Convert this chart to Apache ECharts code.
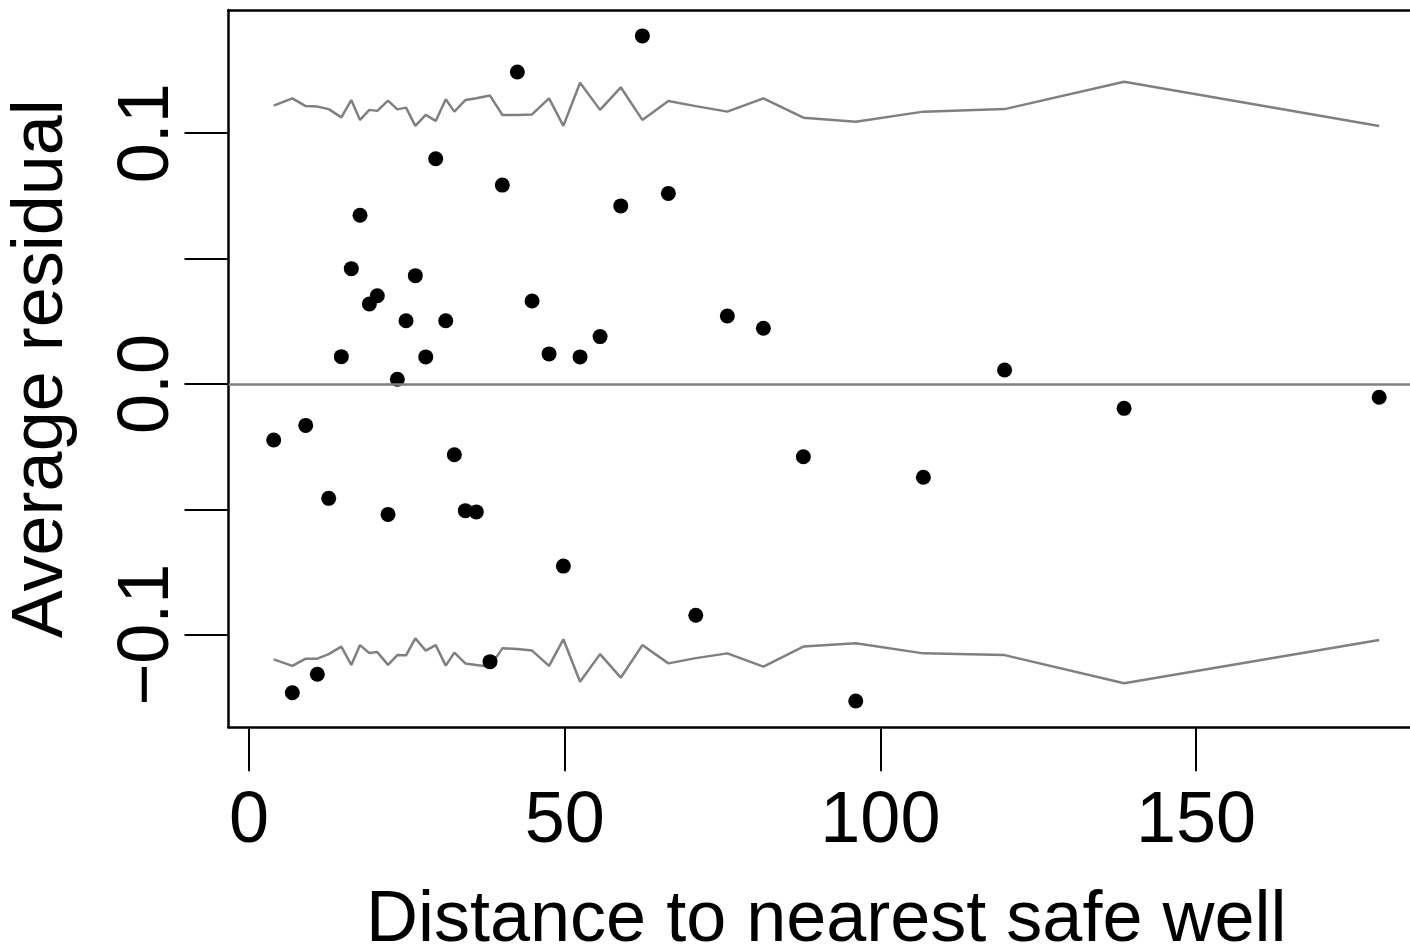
<!DOCTYPE html>
<html>
<head>
<meta charset="utf-8">
<script src="https://cdn.jsdelivr.net/npm/echarts@6/dist/echarts.min.js"></script>
<style>
html,body{margin:0;padding:0;background:#fff;}
#chart{width:1410px;height:948px;}
</style>
</head>
<body>
<div id="chart"></div>
<script>
// Binned mean distance (x) for each bin
const distance = [3.91, 6.86, 8.98, 10.82, 12.62, 14.62, 16.20, 17.58, 19.06, 20.32,
  22.02, 23.49, 24.87, 26.34, 27.99, 29.57, 31.16, 32.52, 34.26, 36.00,
  38.17, 40.12, 42.50, 44.83, 47.52, 49.79, 52.43, 55.60, 58.88, 62.30,
  66.42, 70.76, 75.76, 81.47, 87.80, 96.10, 106.81, 119.67, 138.60, 179.00];
// Average residual in each bin
const avgResidual = [-0.0223, -0.1231, -0.0165, -0.1157, -0.0456, 0.0109, 0.0460, 0.0673, 0.0319, 0.0352,
  -0.0520, 0.0019, 0.0252, 0.0432, 0.0108, 0.0898, 0.0252, -0.0282, -0.0505, -0.0510,
  -0.1107, 0.0793, 0.1244, 0.0331, 0.0120, -0.0726, 0.0108, 0.0189, 0.0710, 0.1388,
  0.0760, -0.0922, 0.0271, 0.0222, -0.0290, -0.1264, -0.0372, 0.0056, -0.0097, -0.0053];
// Upper band (+2 SE)
const upperBand = [0.1110, 0.1139, 0.1108, 0.1106, 0.1096, 0.1063, 0.1132, 0.1053, 0.1093, 0.1089,
  0.1130, 0.1095, 0.1102, 0.1029, 0.1073, 0.1049, 0.1135, 0.1086, 0.1132, 0.1139,
  0.1150, 0.1073, 0.1073, 0.1075, 0.1139, 0.1029, 0.1201, 0.1093, 0.1183, 0.1053,
  0.1128, 0.1108, 0.1086, 0.1139, 0.1062, 0.1046, 0.1086, 0.1096, 0.1205, 0.1029];
// Lower band (-2 SE)
const lowerBand = [-0.1098, -0.1124, -0.1095, -0.1095, -0.1077, -0.1047, -0.1120, -0.1041, -0.1073, -0.1069,
  -0.1120, -0.1081, -0.1082, -0.1014, -0.1063, -0.1041, -0.1123, -0.1071, -0.1114, -0.1120,
  -0.1127, -0.1054, -0.1057, -0.1063, -0.1124, -0.1018, -0.1187, -0.1077, -0.1171, -0.1041,
  -0.1114, -0.1093, -0.1074, -0.1127, -0.1047, -0.1034, -0.1074, -0.1081, -0.1193, -0.1021];
// Ticks
const xTicks = [0, 50, 100, 150];
const yTicks = [-0.1, -0.05, 0, 0.05, 0.1];
const yLabels = [-0.1, 0, 0.1];

const pts = distance.map((d, i) => [d, avgResidual[i]]);
const up = distance.map((d, i) => [d, upperBand[i]]);
const lo = distance.map((d, i) => [d, lowerBand[i]]);

const font = '"Liberation Sans", Arial, sans-serif';
const boxLine = {color: '#000', width: 2.5};
const chart = echarts.init(document.getElementById('chart'), null, {renderer: 'canvas'});
chart.setOption({
  animation: false,
  backgroundColor: '#fff',
  grid: {left: 228.5, top: 10, right: -14, bottom: 220.7, show: false, containLabel: false, outerBoundsMode: 'none'},
  xAxis: [{
    type: 'value', min: -3.25, max: 186.1, position: 'bottom',
    name: 'Distance to nearest safe well', nameLocation: 'middle', nameGap: 158,
    nameTextStyle: {fontFamily: font, fontSize: 72, color: '#000'},
    axisLine: {show: true, onZero: false, lineStyle: boxLine},
    splitLine: {show: false},
    axisTick: {show: true, customValues: xTicks, length: 44, lineStyle: {color: '#000', width: 2}},
    axisLabel: {customValues: xTicks, margin: 59, fontFamily: font, fontSize: 72, color: '#000'}
  }, {
    type: 'value', min: -3.25, max: 186.1, position: 'top',
    axisLine: {show: true, onZero: false, lineStyle: boxLine},
    splitLine: {show: false}, axisTick: {show: false}, axisLabel: {show: false}
  }],
  yAxis: {
    type: 'value', min: -0.13688, max: 0.14912, position: 'left',
    name: 'Average residual', nameLocation: 'middle', nameGap: 150, nameRotate: 90,
    nameTextStyle: {fontFamily: font, fontSize: 72, color: '#000'},
    axisLine: {show: true, onZero: false, lineStyle: boxLine},
    splitLine: {show: false},
    axisTick: {show: true, customValues: yTicks, length: 44, lineStyle: {color: '#000', width: 2}},
    axisLabel: {
      customValues: yLabels, rotate: 90, margin: 44, fontFamily: font, fontSize: 72, color: '#000',
      formatter: v => (v < 0 ? '\u2212' : '') + Math.abs(v).toFixed(1)
    }
  },
  series: [
    {
      type: 'line', data: up, showSymbol: false, symbol: 'none',
      lineStyle: {color: '#808080', width: 2.5}, silent: true, z: 2
    },
    {
      type: 'line', data: lo, showSymbol: false, symbol: 'none',
      lineStyle: {color: '#808080', width: 2.5}, silent: true, z: 2
    },
    {
      type: 'scatter', data: pts, symbol: 'circle', symbolSize: 15,
      itemStyle: {color: '#000', opacity: 1}, z: 3,
      markLine: {
        silent: true, symbol: 'none', label: {show: false},
        lineStyle: {color: '#808080', width: 2.5, type: 'solid', opacity: 1},
        data: [{yAxis: 0}]
      }
    }
  ]
});
</script>
</body>
</html>
